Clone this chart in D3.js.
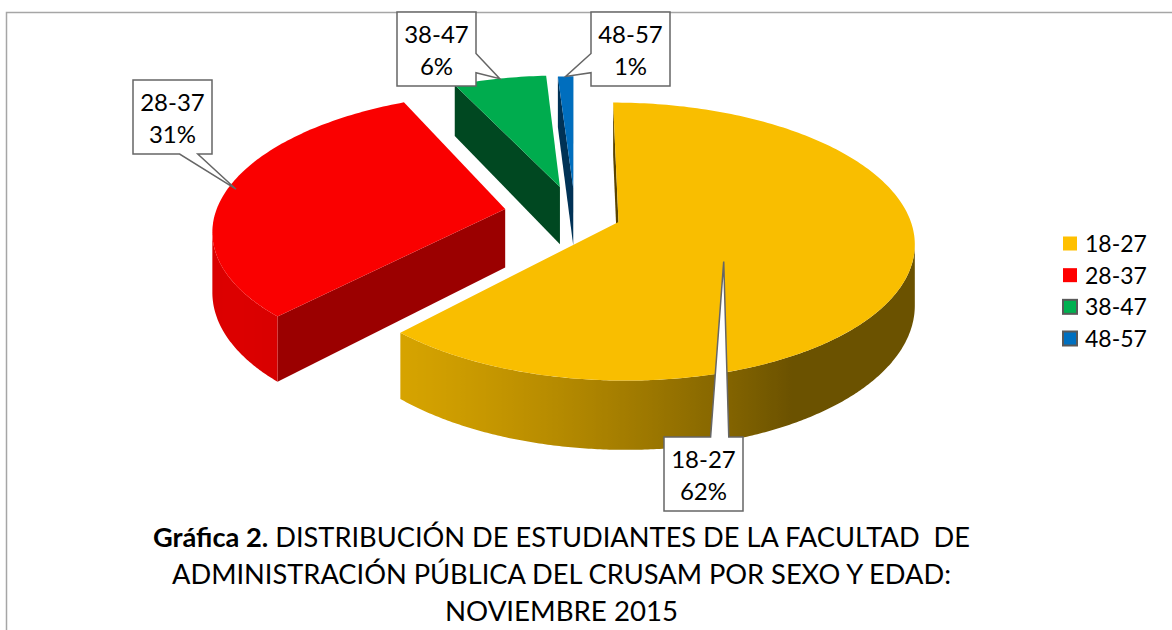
<!DOCTYPE html>
<html lang='es'>
<head>
<meta charset='utf-8'>
<title>Gráfica 2</title>
<script src='https://cdn.jsdelivr.net/npm/d3@7'></script>
<style>
body { margin: 0; background: #fff; }
text { font-family: Lato, 'Open Sans', sans-serif; }
</style>
</head>
<body>
<svg id='svg' width='1172' height='630'></svg>
<script>
// data
var categories = ['18-27', '28-37', '38-47', '48-57'];
var values = [62, 31, 6, 1];
var explode = [0.16, 0.245, 0.215, 0.2];
var titleBold = 'Gráfica 2.';
var titleLines = [' DISTRIBUCIÓN DE ESTUDIANTES DE LA FACULTAD  DE',
                  'ADMINISTRACIÓN PÚBLICA DEL CRUSAM POR SEXO Y EDAD:',
                  'NOVIEMBRE 2015'];

// look
var topColors = ['#F9BE00', '#FA0000', '#00AC4E', '#006EBE'];
var legendColors = ['#FFC000', '#FF0000', '#00B050', '#0070C0'];
var legendStroke = [null, null, '#595959', '#595959'];
var faceShade = [0.36, 0.62, 0.42, 0.45];

// projection of the tilted disc
var CX = 575, CY = 214, R = 290, T = 134, P = 0.14, H = 59;
function proj(u, v, z) {
	var s = 1 / (1 + P * v);
	return [CX + u * R * s, CY - v * T * s + z * H * s];
}

var svg = d3.select('#svg');
var defs = svg.append('defs');

svg.append('rect').attr('x', 6.5).attr('y', 12.5).attr('width', 1200).attr('height', 700)
	.attr('fill', 'none').attr('stroke', '#a6a6a6').attr('stroke-width', 1.5);

var total = d3.sum(values);
var arcs = d3.pie().sort(null).value(d => d)(values);
arcs.forEach(function(a, i) {
	a.i = i;
	a.mid = (a.startAngle + a.endAngle) / 2;
	a.au = explode[i] * Math.sin(a.mid);
	a.av = explode[i] * Math.cos(a.mid);
});

function pt(a, ang, r, z) {
	return proj(a.au + r * Math.sin(ang), a.av + r * Math.cos(ang), z);
}
function signedArea(pts) {
	var s = 0;
	for (var k = 0; k < pts.length; k++) {
		var p = pts[k], q = pts[(k + 1) % pts.length];
		s += p[0] * q[1] - q[0] * p[1];
	}
	return s / 2;
}
function shade(color, f) {
	var c = d3.rgb(color);
	return d3.rgb(c.r * f, c.g * f, c.b * f).toString();
}
var line = d3.line();
var light = 240 * Math.PI / 180;

var order = arcs.slice().sort((a, b) => b.av - a.av);
var gPie = svg.append('g');

order.forEach(function(a) {
	var g = gPie.append('g');
	var col = topColors[a.i];
	var a0 = a.startAngle, a1 = a.endAngle;

	// flat faces along the two radii
	var f0 = [pt(a, 0, 0, 0), pt(a, a0, 1, 0), pt(a, a0, 1, 1), pt(a, 0, 0, 1)];
	var f1 = [pt(a, a1, 1, 0), pt(a, 0, 0, 0), pt(a, 0, 0, 1), pt(a, a1, 1, 1)];
	[f0, f1].forEach(function(f) {
		if (signedArea(f) < 0)
			g.append('path').attr('d', line(f) + 'Z').attr('fill', shade(col, faceShade[a.i]));
	});

	// curved outer wall: visible runs, each one path with a shaded gradient
	var n = Math.max(2, Math.ceil((a1 - a0) / (Math.PI / 360)));
	var runs = [], cur = null;
	for (var k = 0; k < n; k++) {
		var s0 = a0 + (a1 - a0) * k / n, s1 = a0 + (a1 - a0) * (k + 1) / n;
		var q = [pt(a, s0, 1, 0), pt(a, s1, 1, 0), pt(a, s1, 1, 1), pt(a, s0, 1, 1)];
		if (signedArea(q) < 0) {
			if (!cur) { cur = [s0]; runs.push(cur); }
			cur.push(s1);
		} else cur = null;
	}
	runs.forEach(function(run, r) {
		var topE = run.map(s => pt(a, s, 1, 0));
		var botE = run.map(s => pt(a, s, 1, 1)).reverse();
		var xs = topE.map(p => p[0]);
		var xmin = d3.min(xs), xmax = d3.max(xs);
		var id = 'wall' + a.i + '_' + r;
		var grad = defs.append('linearGradient').attr('id', id)
			.attr('gradientUnits', 'userSpaceOnUse')
			.attr('x1', xmin).attr('x2', xmax).attr('y1', 0).attr('y2', 0);
		var stops = run.map(function(s, j) {
			var b = 0.43 + 0.45 * Math.max(0, Math.cos(s - light));
			return { o: xmax > xmin ? (topE[j][0] - xmin) / (xmax - xmin) : 0, c: shade(col, b) };
		}).sort((p, q) => p.o - q.o);
		grad.selectAll('stop').data(stops).enter().append('stop')
			.attr('offset', d => d.o).attr('stop-color', d => d.c);
		g.append('path').attr('d', line(topE.concat(botE)) + 'Z').attr('fill', 'url(#' + id + ')');
	});

	var topPts = [pt(a, 0, 0, 0)];
	var nt = Math.max(2, Math.ceil((a1 - a0) / (Math.PI / 180)));
	for (var k = 0; k <= nt; k++) topPts.push(pt(a, a0 + (a1 - a0) * k / nt, 1, 0));
	g.append('path').attr('d', line(topPts) + 'Z').attr('fill', col);
});

// callouts
var boxes = [[664, 437, 'top'], [133, 80, 'bottom'], [397, 12, 'right'], [591, 12, 'left']];
var tipAt = [[0.58, 0.44], [0.5, 0.97], [0.5, 1.0], [0.5, 1.0]];
var BW = 79, BH = 74;

function callout(x, y, side, tip) {
	var w = BW, h = BH, p;
	if (side == 'top')
		p = [[x, y], [x + w * 0.59, y], tip, [x + w * 0.82, y], [x + w, y], [x + w, y + h], [x, y + h]];
	else if (side == 'bottom')
		p = [[x, y], [x + w, y], [x + w, y + h], [x + w * 0.82, y + h], tip, [x + w * 0.59, y + h], [x, y + h]];
	else if (side == 'right')
		p = [[x, y], [x + w, y], [x + w, y + h * 0.56], tip, [x + w, y + h * 0.82], [x + w, y + h], [x, y + h]];
	else
		p = [[x, y], [x + w, y], [x + w, y + h], [x, y + h], [x, y + h * 0.82], tip, [x, y + h * 0.56]];
	return line(p) + 'Z';
}

var gLab = svg.append('g');
arcs.forEach(function(a) {
	var bx = boxes[a.i];
	var ang = a.startAngle + (a.endAngle - a.startAngle) * tipAt[a.i][0];
	var tip = pt(a, ang, tipAt[a.i][1], 0);
	gLab.append('path').attr('d', callout(bx[0], bx[1], bx[2], tip))
		.attr('fill', '#fff').attr('stroke', '#666').attr('stroke-width', 1.5)
		.attr('stroke-linejoin', 'miter');
	var t = gLab.append('text').attr('text-anchor', 'middle').attr('font-size', 24).attr('fill', '#000');
	t.append('tspan').attr('x', bx[0] + BW / 2).attr('y', bx[1] + 31).text(categories[a.i]);
	t.append('tspan').attr('x', bx[0] + BW / 2).attr('y', bx[1] + 63)
		.text(Math.round(values[a.i] / total * 100) + '%');
});

// legend
var legendY = d3.scaleLinear().domain([0, 3]).range([243.5, 338.5]);
var gLeg = svg.append('g');
categories.forEach(function(c, i) {
	gLeg.append('rect').attr('x', 1063).attr('y', legendY(i) - 7).attr('width', 14).attr('height', 14)
		.attr('fill', legendColors[i])
		.attr('stroke', legendStroke[i] || 'none').attr('stroke-width', 2);
	gLeg.append('text').attr('x', 1085).attr('y', legendY(i) + 8.5)
		.attr('font-size', 23).attr('fill', '#000').text(c);
});

// title
var widths = [817, 779, 233];
var base = [547, 584, 621];
titleLines.forEach(function(s, i) {
	var t = svg.append('text').attr('x', 561.5).attr('y', base[i])
		.attr('text-anchor', 'middle').attr('font-size', 26).attr('fill', '#000')
		.style('white-space', 'pre')
		.attr('textLength', widths[i]).attr('lengthAdjust', 'spacingAndGlyphs');
	if (i == 0) t.append('tspan').attr('font-weight', 'bold').text(titleBold);
	t.append('tspan').text(s);
});
</script>
</body>
</html>
